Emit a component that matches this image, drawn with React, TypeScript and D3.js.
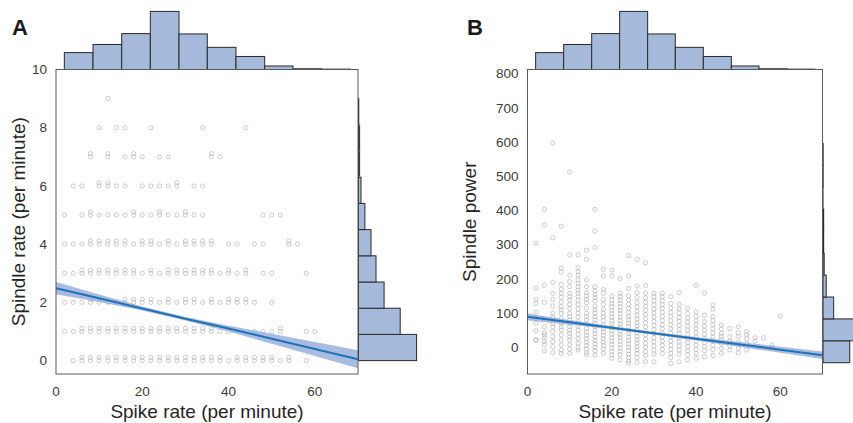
import React from "react";
import * as d3 from "d3";

const W = 853;
const H = 423;
const FONT = "'Liberation Sans', Arial, sans-serif";

// ---------- panel A: spindle rate vs spike rate ----------
// spindle rate levels and the spike rates seen at each level
const rateLevelsA = [0, 1, 2, 3, 4, 5, 6, 7, 8, 9];
const spikeAtLevelA = [
  [4, 6, 8, 10, 12, 14, 16, 18, 20, 22, 24, 26, 28, 30, 32, 34, 36, 38, 40, 42, 44, 46, 48, 50, 52, 54, 58],
  [2, 4, 6, 8, 10, 12, 14, 16, 18, 20, 22, 24, 26, 28, 30, 32, 34, 36, 38, 40, 46, 48, 50, 52, 58, 60],
  [2, 4, 6, 8, 10, 12, 14, 16, 18, 20, 22, 24, 26, 28, 30, 32, 34, 36, 38, 40, 42, 44, 46, 50],
  [2, 4, 6, 8, 10, 12, 14, 16, 18, 20, 22, 24, 26, 28, 30, 32, 34, 36, 38, 40, 42, 44, 48, 50, 58],
  [2, 4, 6, 8, 10, 12, 14, 16, 18, 20, 22, 24, 26, 28, 30, 32, 34, 36, 40, 42, 46, 48, 54, 56],
  [2, 6, 8, 10, 12, 14, 16, 18, 20, 22, 24, 26, 28, 30, 32, 34, 48, 50, 52],
  [4, 6, 10, 12, 14, 16, 20, 22, 24, 26, 28, 32, 34],
  [8, 12, 16, 18, 20, 24, 26, 36, 38],
  [10, 14, 16, 22, 34, 44],
  [12],
];
// second recordings sitting just above a level (the "8" shaped pairs)
const rateLevelsUpperA = [0.11, 1.11, 2.11, 3.11, 4.11, 5.11, 6.11, 7.11];
const spikeAtUpperA = [
  [6, 8, 10, 12, 14, 16, 18, 20, 22, 24, 26, 28, 30, 32, 34, 36, 38, 42, 44, 46, 48, 50, 54],
  [6, 8, 10, 12, 14, 16, 18, 20, 22, 24, 26, 28, 30, 32, 34, 36, 52],
  [8, 16, 18, 20, 22, 26, 30, 32, 36, 40, 42, 44],
  [6, 8, 10, 12, 14, 16, 18, 22, 26, 28, 30, 32, 34, 36, 40, 44],
  [8, 10, 12, 14, 16, 20, 22, 26, 30, 32, 34, 36, 54],
  [8, 18, 24, 30],
  [10, 12, 28],
  [8, 12, 18, 36],
];

const fitX = [0, 10, 20, 30, 40, 50, 60, 70];
const fitA = [2.49, 2.14, 1.79, 1.44, 1.1, 0.75, 0.4, 0.05];
const lowA = [2.28, 2.01, 1.72, 1.38, 1.0, 0.58, 0.16, -0.26];
const highA = [2.7, 2.27, 1.86, 1.5, 1.2, 0.92, 0.64, 0.36];

// ---------- panel B: spindle power vs spike rate ----------
const spikeColsB = [2, 4, 6, 8, 10, 12, 14, 16, 18, 20, 22, 24, 26, 28, 30, 32, 34, 36, 38, 40, 42, 44, 46, 48, 50, 52, 54, 56, 58, 60];
const powerAtColB = [
  [304, 174, 140, 128, 103, 85, 70, 49, 23, 20],
  [403, 358, 181, 131, 60, 43, 36, 28, 17, 8, -10],
  [597, 320, 189, 158, 140, 121, 100, 88, 70, 60, 46, 31, 17, 2, -15],
  [354, 231, 220, 184, 170, 158, 146, 132, 119, 109, 99, 85, 70, 60, 51, 36, 21, 7, -8, -18],
  [513, 270, 211, 192, 177, 158, 148, 138, 125, 114, 99, 90, 80, 70, 60, 50, 41, 31, 21, 7, -5, -18],
  [270, 233, 221, 211, 197, 187, 177, 167, 158, 148, 138, 125, 112, 100, 88, 75, 62, 50, 38, 25, 12, 0, -8],
  [284, 257, 197, 177, 160, 150, 140, 130, 115, 100, 90, 80, 68, 55, 45, 35, 25, 15, 5, -5, -15, -22],
  [403, 340, 292, 177, 165, 155, 145, 135, 120, 110, 100, 90, 80, 70, 60, 50, 40, 30, 20, 10, 0, -10, -22],
  [228, 208, 169, 158, 140, 125, 110, 100, 90, 78, 65, 55, 45, 35, 25, 15, 5, -5, -18],
  [226, 208, 150, 138, 128, 118, 108, 98, 88, 78, 68, 58, 48, 38, 28, 18, 8, -2, -12, -22, -32],
  [201, 158, 148, 138, 128, 118, 108, 98, 88, 78, 68, 58, 48, 38, 28, 18, 8, -2, -12, -22, -37],
  [268, 208, 172, 150, 138, 126, 114, 102, 90, 80, 70, 60, 50, 40, 30, 20, 10, 0, -10, -20, -30, -40, -47],
  [257, 179, 160, 145, 130, 118, 106, 94, 82, 72, 62, 52, 42, 32, 22, 12, 2, -8, -18, -30, -44],
  [247, 181, 158, 145, 132, 120, 108, 96, 84, 72, 60, 48, 36, 24, 12, 0, -12, -24, -42],
  [158, 148, 136, 124, 112, 100, 88, 76, 64, 52, 40, 28, 16, 4, -8, -20, -42],
  [158, 148, 136, 125, 114, 102, 90, 78, 66, 54, 42, 30, 18, 6, -6, -18],
  [148, 128, 115, 102, 90, 78, 66, 54, 42, 30, 18, 6, -6, -18, -30, -47],
  [160, 126, 112, 100, 88, 76, 64, 52, 40, 28, 16, 4, -8, -20, -42],
  [114, 99, 86, 74, 62, 50, 38, 26, 14, 2, -10, -22, -37],
  [181, 104, 90, 78, 66, 54, 42, 30, 18, 6, -6, -18, -32],
  [158, 94, 75, 62, 50, 38, 26, 14, 2, -10, -27],
  [124, 111, 90, 78, 66, 54, 42, 30, 18, 6, -6, -24],
  [65, 53, 41, 32, 23, 12, -3, -18],
  [55, 31, 18, 4, -8],
  [60, 43, 31, 14, -3, -16],
  [46, 36, 26, 12, -8],
  [28, 18],
  [28],
  [7, 0],
  [91],
];

const fitB = [89, 73, 57, 41, 25, 9, -7, -23];
const lowB = [79, 66, 52.5, 37, 20, 2, -16, -34];
const highB = [99, 80, 61.5, 45, 30, 16, 2, -12];

// ---------- marginal histograms ----------
const spikeBinEdges = [1.93, 8.58, 15.23, 21.86, 28.51, 35.07, 41.72, 48.37, 54.93, 61.58, 68.2];
const spikeBinCounts = [48, 71, 102, 165, 101, 63, 37, 10, 2, 1];
const rateBinEdges = [0, 0.9, 1.8, 2.7, 3.6, 4.5, 5.4, 6.3, 7.2, 8.1, 9.0];
const rateBinCounts = [209, 150, 92, 63, 45, 23, 9, 4, 4, 1];
const powerBinEdges = [-45, 19, 83, 147, 211, 275, 340, 404, 468, 532, 596];
const powerBinCounts = [158, 343, 63, 19, 7, 4, 4, 0, 1, 1];

const xTicks = [0, 20, 40, 60];
const yTicksA = [0, 2, 4, 6, 8, 10];
const yTicksB = [0, 100, 200, 300, 400, 500, 600, 700, 800];

type Frame = { left: number; right: number; top: number; bottom: number };

function pairsA(): [number, number][] {
  const pts: [number, number][] = [];
  rateLevelsA.forEach((lv, i) => spikeAtLevelA[i].forEach((s) => pts.push([s, lv])));
  rateLevelsUpperA.forEach((lv, i) => spikeAtUpperA[i].forEach((s) => pts.push([s, lv])));
  return pts;
}

function pairsB(): [number, number][] {
  const pts: [number, number][] = [];
  spikeColsB.forEach((s, i) => powerAtColB[i].forEach((p) => pts.push([s, p])));
  return pts;
}

function Panel(props: {
  id: string;
  frame: Frame;
  yDomain: [number, number];
  yTicks: number[];
  points: [number, number][];
  fit: number[];
  low: number[];
  high: number[];
  yEdges: number[];
  yCounts: number[];
  letter: string;
  letterX: number;
  yLabel: string;
  yLabelX: number;
}) {
  const { id, frame, yDomain, yTicks, points, fit, low, high, yEdges, yCounts } = props;
  const x = d3.scaleLinear().domain([0, 70]).range([frame.left, frame.right]);
  const y = d3.scaleLinear().domain(yDomain).range([frame.bottom, frame.top]);
  const margSize = 61;
  const topH = d3.scaleLinear().domain([0, (d3.max(spikeBinCounts) as number) * 1.05]).range([0, margSize]);
  const rightW = d3.scaleLinear().domain([0, (d3.max(yCounts) as number) * 1.05]).range([0, margSize]);

  const fitPts = fitX.map((fx, i) => ({ x: fx, m: fit[i], lo: low[i], hi: high[i] }));
  const band = d3.area<any>().x((d) => x(d.x)).y0((d) => y(d.lo)).y1((d) => y(d.hi));
  const line = d3.line<any>().x((d) => x(d.x)).y((d) => y(d.m));

  const histFill = "#a5b9da";
  const histStroke = "#2a2a2a";

  return (
    <g>
      <defs>
        <clipPath id={"clip" + id}>
          <rect x={frame.left} y={frame.top} width={frame.right - frame.left} height={frame.bottom - frame.top} />
        </clipPath>
      </defs>

      {/* top marginal histogram */}
      {spikeBinCounts.map((c, i) => (
        <rect
          key={"t" + i}
          x={x(spikeBinEdges[i])}
          y={frame.top - topH(c)}
          width={x(spikeBinEdges[i + 1]) - x(spikeBinEdges[i])}
          height={Math.max(topH(c), 0.01)}
          fill={histFill}
          stroke={histStroke}
          strokeWidth={1}
        />
      ))}

      {/* right marginal histogram */}
      {yCounts.map((c, i) => (
        <rect
          key={"r" + i}
          x={frame.right + 0.5}
          y={y(yEdges[i + 1])}
          width={Math.max(rightW(c), 0.01)}
          height={y(yEdges[i]) - y(yEdges[i + 1])}
          fill={histFill}
          stroke={histStroke}
          strokeWidth={1}
        />
      ))}

      <g clipPath={`url(#clip${id})`}>
        {points.map((p, i) => (
          <circle key={i} cx={x(p[0])} cy={y(p[1])} r={2.1} fill="none" stroke="#b4b4b4" strokeWidth={0.7} />
        ))}
        <path d={band(fitPts) as string} fill="#8aa6d6" fillOpacity={0.75} />
        <path d={line(fitPts) as string} fill="none" stroke="#1f72b8" strokeWidth={2} />
      </g>

      <rect
        x={frame.left}
        y={frame.top}
        width={frame.right - frame.left}
        height={frame.bottom - frame.top}
        fill="none"
        stroke="#5a5a5a"
        strokeWidth={1}
      />

      {yTicks.map((t) => (
        <text key={"y" + t} x={frame.left - 9} y={y(t)} dy="0.35em" textAnchor="end" fontSize={13.5} fill="#3c3c3c" fontFamily={FONT}>
          {t}
        </text>
      ))}
      {xTicks.map((t) => (
        <text key={"x" + t} x={x(t)} y={frame.bottom + 17} dy="0.35em" textAnchor="middle" fontSize={13.5} fill="#3c3c3c" fontFamily={FONT}>
          {t}
        </text>
      ))}

      <text x={(frame.left + frame.right) / 2} y={418} textAnchor="middle" fontSize={19} fill="#262626" fontFamily={FONT}>
        Spike rate (per minute)
      </text>
      <text
        transform={`translate(${props.yLabelX},${(frame.top + frame.bottom) / 2}) rotate(-90)`}
        textAnchor="middle"
        fontSize={19}
        fill="#262626"
        fontFamily={FONT}
      >
        {props.yLabel}
      </text>
      <text x={props.letterX} y={34.5} fontSize={22} fontWeight="bold" fill="#1a1a1a" fontFamily={FONT}>
        {props.letter}
      </text>
    </g>
  );
}

export default function App() {
  return (
    <svg width={W} height={H} style={{ position: "absolute", left: 0, top: 0, display: "block", background: "#fff" }}>
      <rect width={W} height={H} fill="#fff" />
      <Panel
        id="A"
        frame={{ left: 56, right: 358, top: 69.5, bottom: 374 }}
        yDomain={[-0.46, 10]}
        yTicks={yTicksA}
        points={pairsA()}
        fit={fitA}
        low={lowA}
        high={highA}
        yEdges={rateBinEdges}
        yCounts={rateBinCounts}
        letter="A"
        letterX={12}
        yLabel="Spindle rate (per minute)"
        yLabelX={25}
      />
      <Panel
        id="B"
        frame={{ left: 527.5, right: 822.5, top: 69.5, bottom: 374 }}
        yDomain={[-78, 812]}
        yTicks={yTicksB}
        points={pairsB()}
        fit={fitB}
        low={lowB}
        high={highB}
        yEdges={powerBinEdges}
        yCounts={powerBinCounts}
        letter="B"
        letterX={467}
        yLabel="Spindle power"
        yLabelX={476}
      />
    </svg>
  );
}
